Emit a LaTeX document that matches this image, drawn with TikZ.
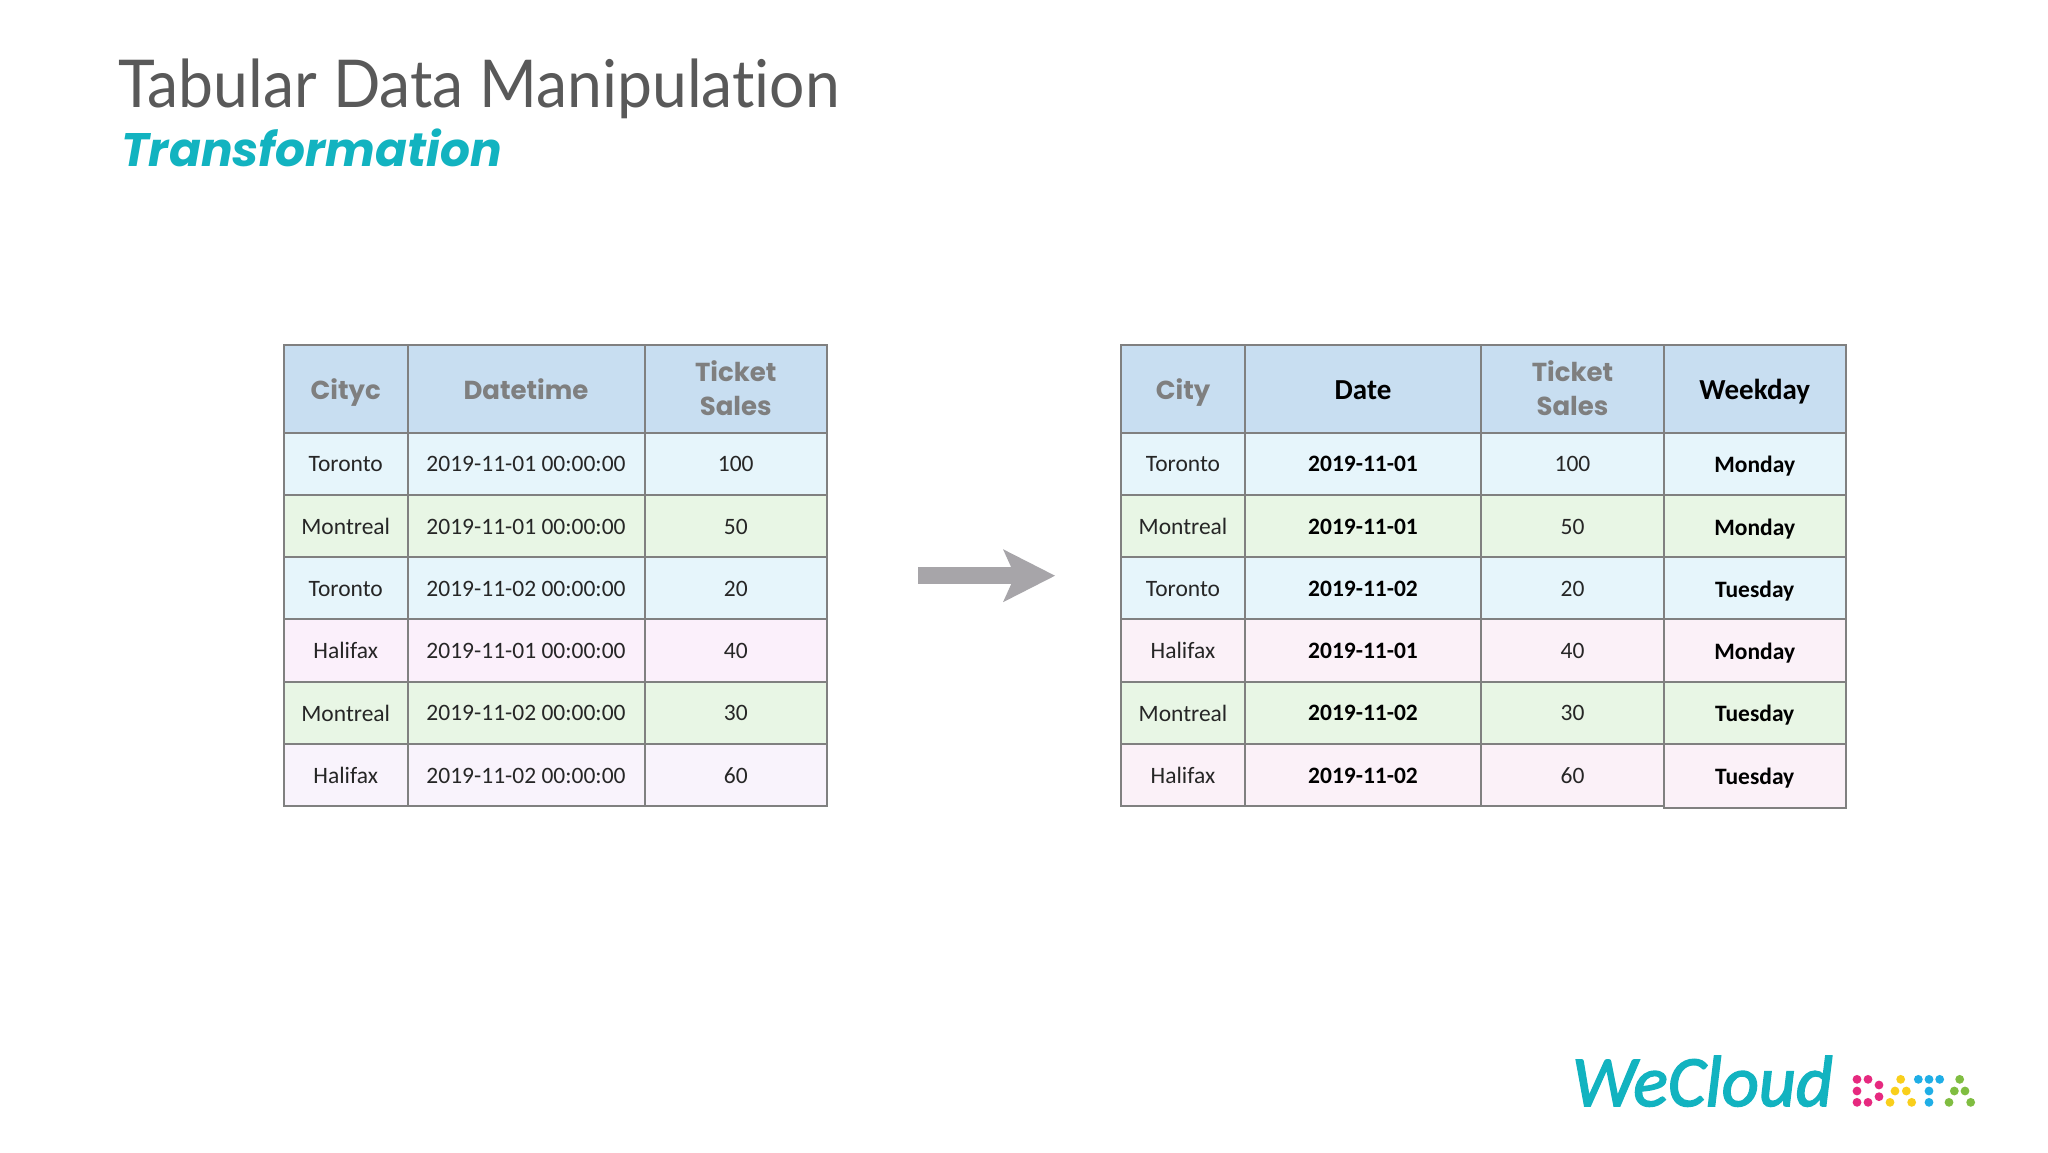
\documentclass[tikz,border=0pt]{standalone}
\usepackage{fontspec}
\setmainfont{Carlito}
\newfontfamily\titlefont[FakeStretch=0.945,Ligatures=NoCommon]{Lato}
\newfontfamily\popfont{Poppins}
\newfontfamily\logofont[FakeBold=2.2]{Carlito}
\usetikzlibrary{arrows.meta}
\definecolor{hdr}{HTML}{C8DEF1}
\definecolor{tor}{HTML}{E6F5FB}
\definecolor{mon}{HTML}{E8F6E5}
\definecolor{hal}{HTML}{FBF0FB}
\definecolor{halb}{HTML}{F9F3FC}
\definecolor{halr}{HTML}{FBF1F8}
\definecolor{grid}{HTML}{808080}
\definecolor{titlegray}{HTML}{595959}
\definecolor{teal}{HTML}{12B3C0}
\definecolor{arrowgray}{HTML}{A7A5A9}
\definecolor{hdrgray}{HTML}{7F7F7F}
\definecolor{dpink}{HTML}{E6297F}
\definecolor{dyellow}{HTML}{F9CF1B}
\definecolor{dblue}{HTML}{1FAEE6}
\definecolor{dgreen}{HTML}{80BD41}
\tikzset{
  x=1pt,y=-1pt,
  cellbox/.style={draw=grid,line width=2pt,rectangle,inner sep=0pt,outer sep=0pt,align=center,text=black},
  body/.style={font=\fontsize{23.5}{28}\selectfont,text=black!85},
  bodybold/.style={font=\fontsize{23.5}{28}\selectfont\bfseries,text=black},
  headgray/.style={font=\fontsize{26}{34}\selectfont\popfont\bfseries,text=hdrgray},
  headblack/.style={font=\fontsize{29}{34}\selectfont\bfseries,text=black},
  dot/.style={circle,inner sep=0pt,minimum size=8.8pt},
}
% extra height on top of a text pushes it down by half of that height
\newcommand{\dn}[2]{\raisebox{0pt}[\dimexpr\height+#1\relax]{\vphantom{Tg}#2}}
% name, x0, x1, y0, y1, fill, style, text
\newcommand{\tcell}[8]{%
  \pgfmathsetmacro{\cw}{#3-#2}\pgfmathsetmacro{\ch}{#5-#4}%
  \node[cellbox,fill=#6,#7,minimum width=\cw pt,minimum height=\ch pt] (#1) at ({(#2+#3)/2},{(#4+#5)/2}) {#8};}
\newcommand{\ltrow}[7]{% id, y0, y1, fill, city, datetime, sales
  \tcell{L#1a}{284}{407.5}{#2}{#3}{#4}{body}{\dn{5pt}{#5}}
  \tcell{L#1b}{407.5}{644.5}{#2}{#3}{#4}{body}{\dn{5pt}{#6}}
  \tcell{L#1c}{644.5}{827}{#2}{#3}{#4}{body}{\dn{5pt}{#7}}}
\newcommand{\rtrow}[8]{% id, y0, y1, fill, city, date, sales, weekday
  \tcell{R#1a}{1121}{1245}{#2}{#3}{#4}{body}{\dn{5pt}{#5}}
  \tcell{R#1b}{1245}{1481}{#2}{#3}{#4}{bodybold}{\dn{5pt}{#6}}
  \tcell{R#1c}{1481}{1664}{#2}{#3}{#4}{body}{\dn{5pt}{#7}}
  \tcell{R#1d}{1664}{1845.5}{#2+0.8}{#3+0.8}{#4}{bodybold}{\dn{4pt}{#8}}}
\newcommand{\twoline}{Ticket\\Sales\rule[-2pt]{0pt}{2pt}}
\begin{document}
\begin{tikzpicture}
\useasboundingbox (0,0) rectangle (2048,1152);
\fill[white] (0,0) rectangle (2048,1152);
% titles
\node[anchor=base west,inner sep=0pt,text=titlegray,font=\fontsize{66}{70}\selectfont\titlefont] (title) at (118,107) {Tabular Data Manipulation};
\node[anchor=base west,inner sep=0pt,text=teal,font=\fontsize{47}{50}\selectfont\popfont\bfseries\itshape] (subtitle) at (121,166) {Transformation};
% left table
\tcell{Lha}{284}{407.5}{345}{432.5}{hdr}{headgray}{\dn{7pt}{Cityc}}
\tcell{Lhb}{407.5}{644.5}{345}{432.5}{hdr}{headgray}{\dn{7pt}{Datetime}}
\tcell{Lhc}{644.5}{827}{345}{432.5}{hdr}{headgray}{\twoline}
\ltrow{1}{432.5}{495}{tor}{Toronto}{2019-11-01 00:00:00}{100}
\ltrow{2}{495}{557}{mon}{Montreal}{2019-11-01 00:00:00}{50}
\ltrow{3}{557}{619}{tor}{Toronto}{2019-11-02 00:00:00}{20}
\ltrow{4}{619}{681.5}{hal}{Halifax}{2019-11-01 00:00:00}{40}
\ltrow{5}{681.5}{744}{mon}{Montreal}{2019-11-02 00:00:00}{30}
\ltrow{6}{744}{806}{halb}{Halifax}{2019-11-02 00:00:00}{60}
% right table
\tcell{Rha}{1121}{1245}{345}{432.5}{hdr}{headgray}{\dn{7pt}{City}}
\tcell{Rhb}{1245}{1481}{345}{432.5}{hdr}{headblack}{\dn{7pt}{Date}}
\tcell{Rhc}{1481}{1664}{345}{432.5}{hdr}{headgray}{\twoline}
\tcell{Rhd}{1664}{1845.5}{345}{433.3}{hdr}{headblack}{\dn{6pt}{Weekday}}
\rtrow{1}{432.5}{495}{tor}{Toronto}{2019-11-01}{100}{Monday}
\rtrow{2}{495}{557}{mon}{Montreal}{2019-11-01}{50}{Monday}
\rtrow{3}{557}{619}{tor}{Toronto}{2019-11-02}{20}{Tuesday}
\rtrow{4}{619}{681.5}{halr}{Halifax}{2019-11-01}{40}{Monday}
\rtrow{5}{681.5}{744}{mon}{Montreal}{2019-11-02}{30}{Tuesday}
\rtrow{6}{744}{806}{halr}{Halifax}{2019-11-02}{60}{Tuesday}
% arrow
\coordinate (arrowtail) at (918,575.7);
\coordinate (arrowtip) at (1055,575.7);
\draw[arrowgray,line width=17pt,-{Stealth[length=52pt,width=53pt,inset=12pt,line width=0pt]}] (arrowtail) -- (arrowtip);
% logo
\node[anchor=base west,inner sep=0pt,text=teal,font=\fontsize{72}{72}\selectfont\logofont\itshape] (logo) at (1572,1106) {WeCloud};
% dots
\foreach \n/\zx/\zy/\c in {
 d1/921/148/dpink,d2/954/148/dpink,d3/987/165/dpink,d4/921/183/dpink,d5/987/200/dpink,d6/921/217/dpink,d7/954/217/dpink,
 a1/1052/148/dyellow,a2/1035/183/dyellow,a3/1069/183/dyellow,a4/1020/217/dyellow,a5/1085/217/dyellow,
 t1/1105/148/dblue,t2/1137/148/dblue,t3/1169/148/dblue,t4/1137/183/dblue,t5/1137/217/dblue,
 b1/1229/148/dgreen,b2/1213/183/dgreen,b3/1245/183/dgreen,b4/1197/217/dgreen,b5/1262/217/dgreen}
  \node[dot,fill=\c] (\n) at ({1550+\zx/3},{1030+\zy/3}) {};
\end{tikzpicture}
\end{document}
